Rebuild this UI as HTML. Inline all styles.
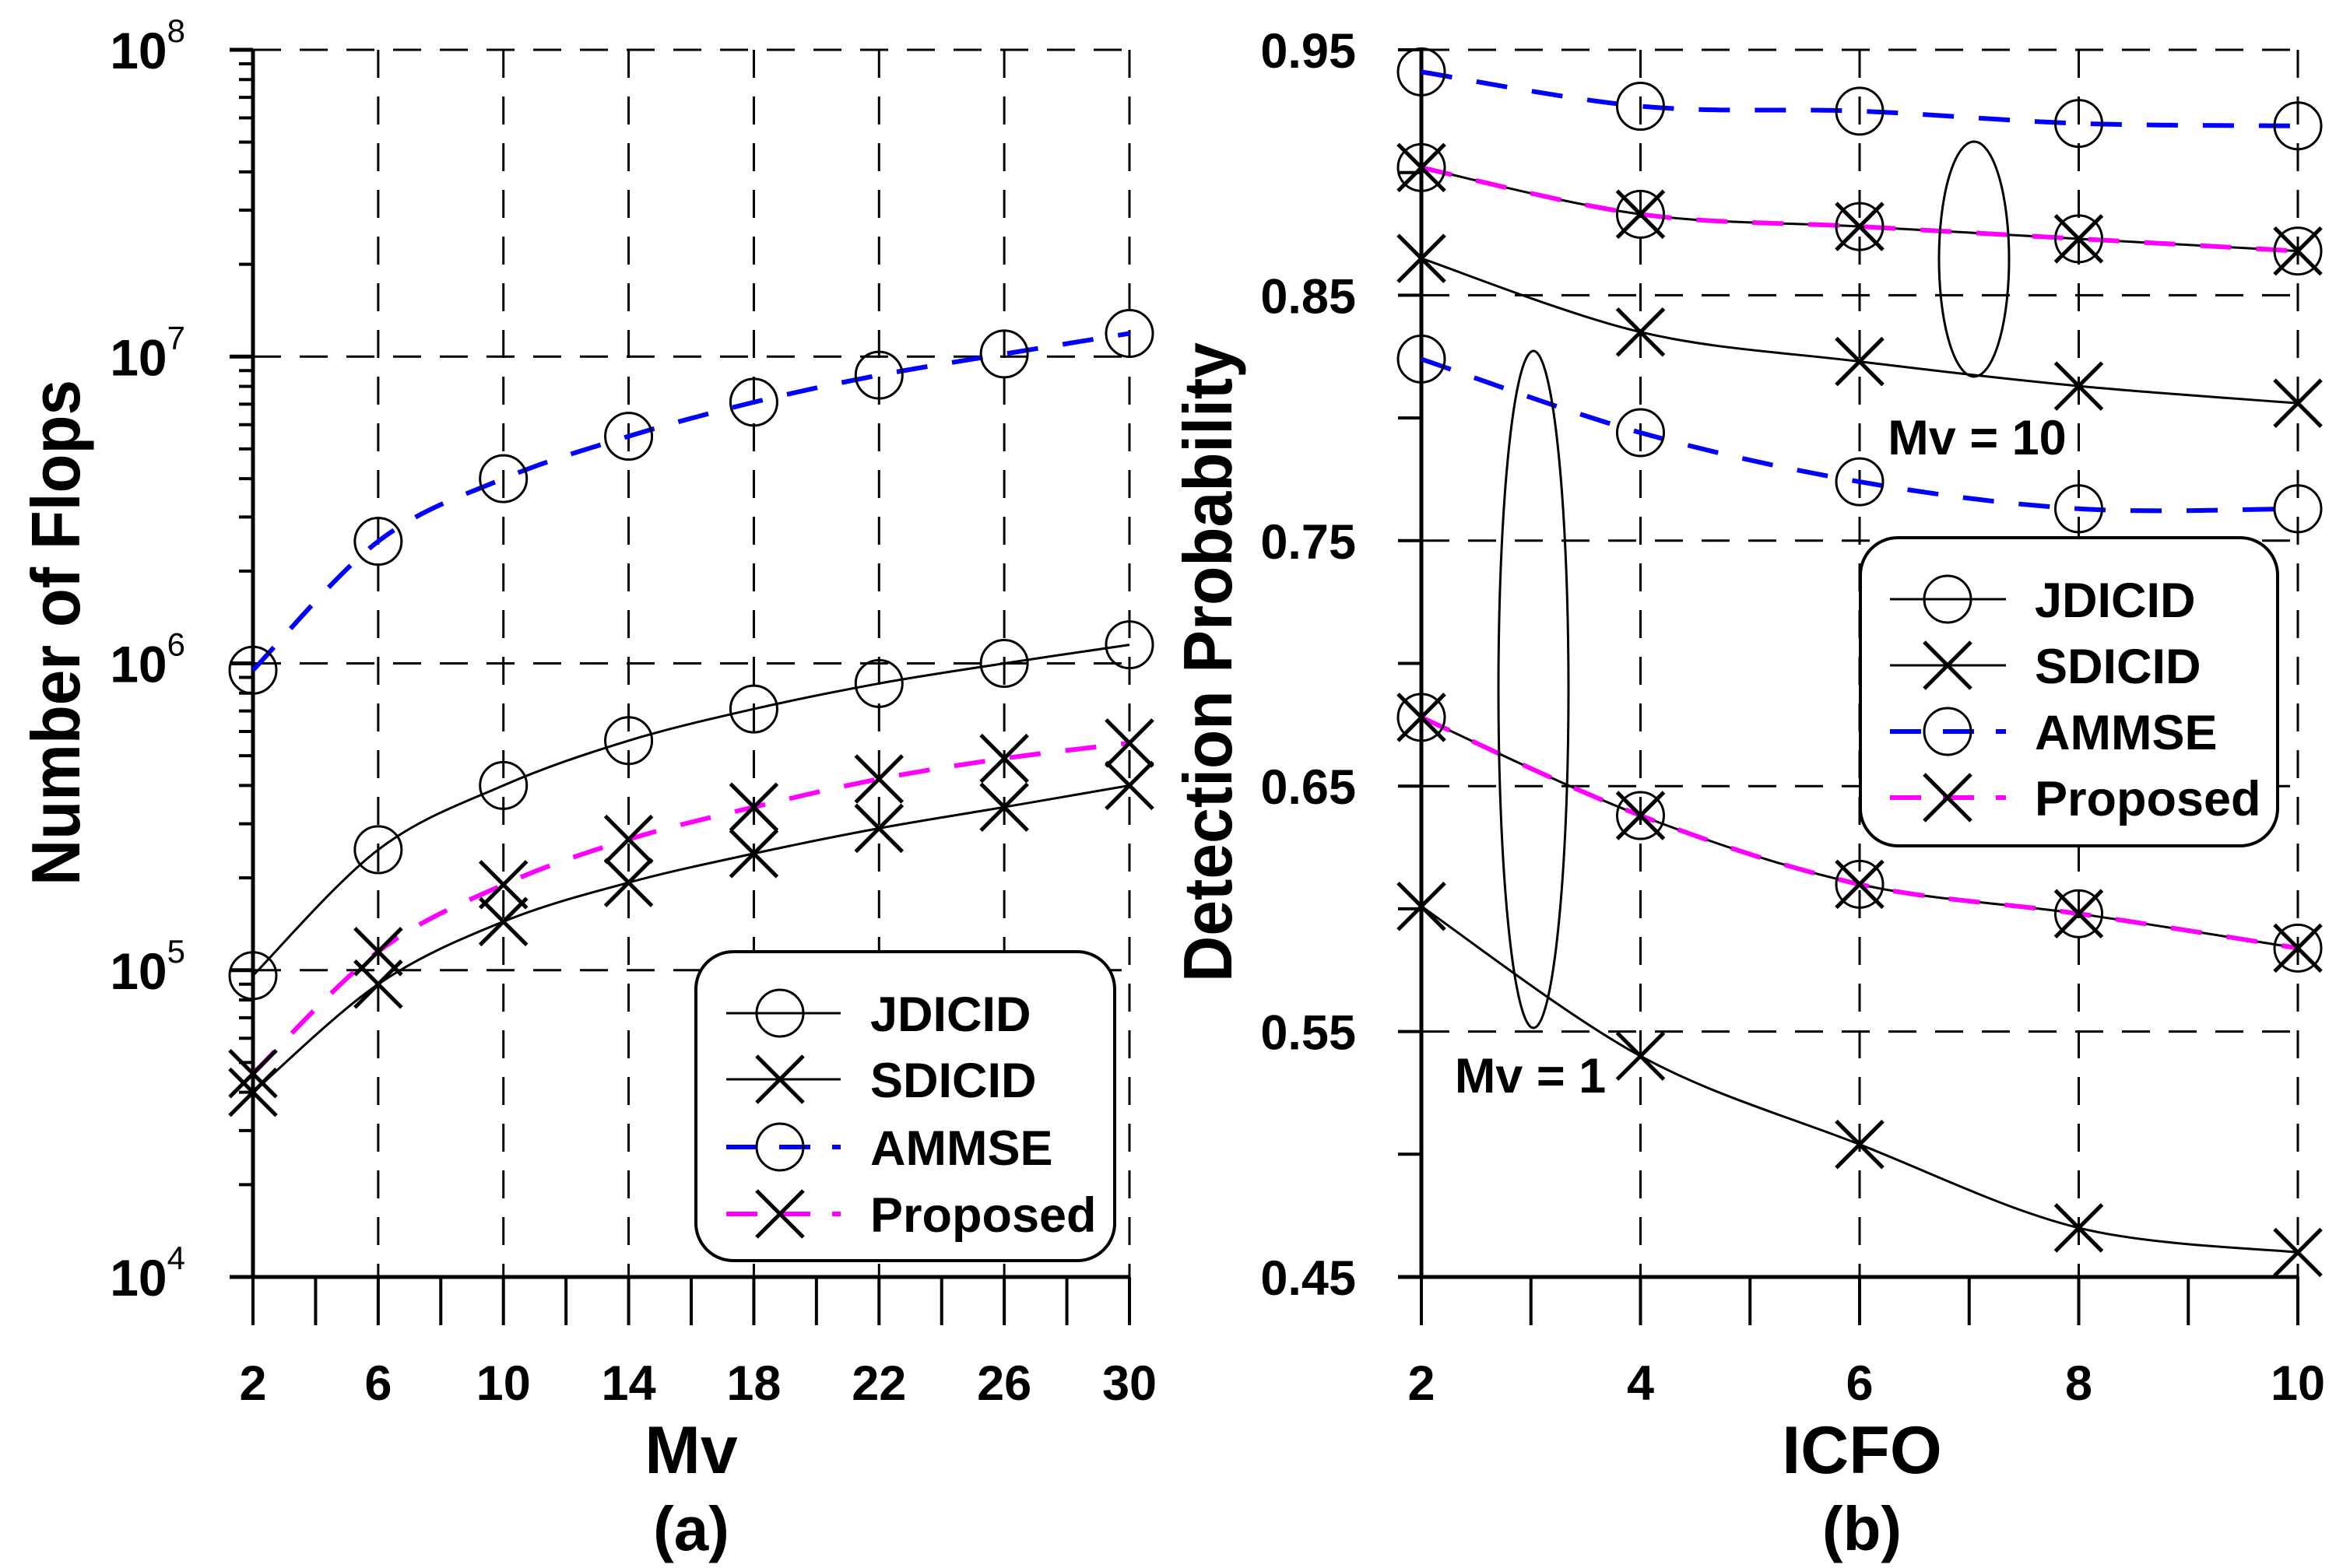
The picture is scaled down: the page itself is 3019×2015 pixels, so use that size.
<!DOCTYPE html>
<html><head><meta charset="utf-8">
<style>
html,body{margin:0;padding:0;background:#fff;}
svg{display:block;}
text{font-family:"Liberation Sans",Arial,sans-serif;font-weight:bold;fill:#000;}
</style></head>
<body>
<svg id="fig" width="3019" height="2015" viewBox="0 0 3019 2015" xmlns="http://www.w3.org/2000/svg">
<rect x="0" y="0" width="3019" height="2015" fill="#fff"/>
<g id="pa"></g>
<g id="pb"></g>
</svg>
<script>
// ---------- Chart (a) data ----------
const mvCats = [2, 6, 10, 14, 18, 22, 26, 30];
const flopsJDICID = [9.6e4, 2.47e5, 4.0e5, 5.6e5, 7.1e5, 8.6e5, 1.0e6, 1.15e6];
const flopsSDICID = [4.0e4, 9.0e4, 1.44e5, 1.93e5, 2.4e5, 2.9e5, 3.4e5, 4.0e5];
const flopsAMMSE = [9.5e5, 2.5e6, 4.0e6, 5.5e6, 7.1e6, 8.7e6, 1.02e7, 1.19e7];
const flopsProposed = [4.6e4, 1.15e5, 1.9e5, 2.67e5, 3.4e5, 4.2e5, 4.9e5, 5.5e5];
const aXTicks = [2, 6, 10, 14, 18, 22, 26, 30];
const aYExps = [4, 5, 6, 7, 8];

// ---------- Chart (b) data ----------
const icfoCats = [2, 4, 6, 8, 10];
const pd10AMMSE = [0.941, 0.927, 0.925, 0.920, 0.919];
const pd10JDICID = [0.902, 0.883, 0.878, 0.873, 0.868];
const pd10Proposed = [0.902, 0.883, 0.878, 0.873, 0.868];
const pd10SDICID = [0.865, 0.835, 0.823, 0.813, 0.806];
const pd1AMMSE = [0.824, 0.794, 0.774, 0.763, 0.763];
const pd1JDICID = [0.678, 0.638, 0.610, 0.598, 0.584];
const pd1Proposed = [0.678, 0.638, 0.610, 0.598, 0.584];
const pd1SDICID = [0.601, 0.540, 0.504, 0.470, 0.460];
const bYTicks = ["0.45", "0.55", "0.65", "0.75", "0.85", "0.95"];
const bXTicks = ["2", "4", "6", "8", "10"];

const NS = "http://www.w3.org/2000/svg";
function mk(parent, tag, attrs, txt) {
  const e = document.createElementNS(NS, tag);
  for (const k in attrs) e.setAttribute(k, attrs[k]);
  if (txt !== undefined) e.textContent = txt;
  parent.appendChild(e);
  return e;
}
const GRID = {stroke: "#000", "stroke-width": 3, "stroke-dasharray": "36 24", fill: "none"};

function circleMarker(g, x, y) {
  return mk(g, "circle", {cx: x, cy: y, r: 30, fill: "none", stroke: "#000", "stroke-width": 3});
}
function crossMarker(g, x, y) {
  return mk(g, "path", {d: `M${x-30},${y-30}L${x+30},${y+30}M${x+30},${y-30}L${x-30},${y+30}`, stroke: "#000", "stroke-width": 5, fill: "none"});
}
function smoothLine(g, pts, style) {
  let d = "M" + pts[0][0] + "," + pts[0][1];
  for (let i = 0; i < pts.length - 1; i++) {
    const p0 = pts[Math.max(0, i-1)], p1 = pts[i], p2 = pts[i+1], p3 = pts[Math.min(pts.length-1, i+2)];
    const c1x = p1[0] + (p2[0]-p0[0])/6, c1y = p1[1] + (p2[1]-p0[1])/6;
    const c2x = p2[0] - (p3[0]-p1[0])/6, c2y = p2[1] - (p3[1]-p1[1])/6;
    d += `C${c1x.toFixed(1)},${c1y.toFixed(1)} ${c2x.toFixed(1)},${c2y.toFixed(1)} ${p2[0].toFixed(1)},${p2[1].toFixed(1)}`;
  }
  return mk(g, "path", Object.assign({d: d, fill: "none"}, style));
}
const SOLID = {stroke: "#000", "stroke-width": 3};
const BLUE = {stroke: "#0000ff", "stroke-width": 6, "stroke-dasharray": "40 32"};
const MAG = {stroke: "#ff00ff", "stroke-width": 6, "stroke-dasharray": "40 32"};

function drawLegend(lg, lx0, lx1, mx, tx, rows) {
  const names = ["JDICID", "SDICID", "AMMSE", "Proposed"];
  const styles = [SOLID, SOLID, BLUE, MAG];
  const kinds = ["o", "x", "o", "x"];
  names.forEach((n, i) => {
    const y = rows[i];
    const eg = mk(lg, "g", {});
    
    
    const st = Object.assign({}, styles[i]);
    if (i >= 2) st["stroke-dasharray"] = "40 28";
    mk(eg, "line", Object.assign({x1: lx0, x2: lx1, y1: y, y2: y}, st));
    if (kinds[i] === "o") circleMarker(eg, mx, y); else crossMarker(eg, mx, y);
    mk(eg, "text", {x: tx, y: y + 23, "font-size": 63}, n);
  });
}

// ================= Chart (a) =================
(function(){
  const g = document.getElementById("pa");
  const X0 = 325, X1 = 1451, Y0 = 1641, Y1 = 64;
  const xs = v => X0 + (v - 2) / 28 * (X1 - X0);
  const ys = v => Y0 - (Math.log10(v) - 4) / 4 * (Y0 - Y1);

  aYExps.forEach(e => {
    if (e === 4) return;
    const l = mk(g, "line", Object.assign({x1: X0, x2: X1, y1: ys(Math.pow(10, e)), y2: ys(Math.pow(10, e))}, GRID));
    
    
  });
  aXTicks.forEach(v => {
    if (v === 2) return;
    const l = mk(g, "line", Object.assign({x1: xs(v), x2: xs(v), y1: Y1, y2: Y0}, GRID));
    
    
  });
  const ya = mk(g, "line", {x1: X0, x2: X0, y1: Y1, y2: Y0, stroke: "#000", "stroke-width": 5});
  
  
  const xa = mk(g, "line", {x1: X0 - 30, x2: X1, y1: Y0, y2: Y0, stroke: "#000", "stroke-width": 5});
  
  
  aYExps.forEach(e => {
    const y = ys(Math.pow(10, e));
    mk(g, "line", {x1: X0 - 30, x2: X0, y1: y, y2: y, stroke: "#000", "stroke-width": 5});
    const t = mk(g, "text", {x: 238, y: y + 24, "text-anchor": "end", "font-size": 66});
    
    
    t.textContent = "10";
    mk(t, "tspan", {dy: -34, "font-size": 42, "font-weight": "normal"}, String(e));
    if (e < 8) for (let m = 2; m <= 9; m++) {
      const yy = ys(m * Math.pow(10, e));
      mk(g, "line", {x1: X0 - 18, x2: X0, y1: yy, y2: yy, stroke: "#000", "stroke-width": 4});
    }
  });
  for (let v = 2; v <= 30; v += 2) {
    mk(g, "line", {x1: xs(v), x2: xs(v), y1: Y0, y2: Y0 + 62, stroke: "#000", "stroke-width": 4});
  }
  aXTicks.forEach(v => {
    const t = mk(g, "text", {x: xs(v), y: 1799, "text-anchor": "middle", "font-size": 63}, String(v));
    
    
  });
  const xt = mk(g, "text", {x: 888, y: 1893, "text-anchor": "middle", "font-size": 86}, "Mv");
  
  
  const cap = mk(g, "text", {x: 888, y: 1992, "text-anchor": "middle", "font-size": 80}, "(a)");
  
  
  const yt = mk(g, "text", {x: 0, y: 0, "text-anchor": "middle", "font-size": 88, transform: "translate(102,813) rotate(-90)", textLength: 650, lengthAdjust: "spacingAndGlyphs"}, "Number of Flops");
  
  

  const pts = arr => mvCats.map((c, i) => [xs(c), ys(arr[i])]);
  const sg = mk(g, "g", {});
  
  
  let l;
  l = smoothLine(sg, pts(flopsJDICID), SOLID);
  
  
  l = smoothLine(sg, pts(flopsSDICID), SOLID);
  
  
  l = smoothLine(sg, pts(flopsAMMSE), BLUE);
  
  
  l = smoothLine(sg, pts(flopsProposed), MAG);
  
  
  pts(flopsJDICID).forEach(p => { const m = circleMarker(sg, p[0], p[1]);   });
  pts(flopsAMMSE).forEach(p => { const m = circleMarker(sg, p[0], p[1]);   });
  pts(flopsSDICID).forEach(p => { const m = crossMarker(sg, p[0], p[1]);   });
  pts(flopsProposed).forEach(p => { const m = crossMarker(sg, p[0], p[1]);   });

  const lg = mk(g, "g", {});
  
  
  mk(lg, "rect", {x: 894, y: 1223, width: 538, height: 397, rx: 48, fill: "#fff", stroke: "#000", "stroke-width": 4});
  drawLegend(lg, 933, 1080, 1002, 1118, [1302, 1387, 1474, 1560]);
})();

// ================= Chart (b) =================
(function(){
  const g = document.getElementById("pb");
  const X0 = 1826, X1 = 2952, Y0 = 1641, Y1 = 64;
  const xs = v => X0 + (v - 2) / 8 * (X1 - X0);
  const ys = v => Y0 - (v - 0.45) / 0.5 * (Y0 - Y1);

  bYTicks.forEach(s => {
    const v = parseFloat(s);
    if (v === 0.45) return;
    const l = mk(g, "line", Object.assign({x1: X0, x2: X1, y1: ys(v), y2: ys(v)}, GRID));
    
    
  });
  bXTicks.forEach(s => {
    const v = parseFloat(s);
    if (v === 2) return;
    const l = mk(g, "line", Object.assign({x1: xs(v), x2: xs(v), y1: Y1, y2: Y0}, GRID));
    
    
  });
  const ya = mk(g, "line", {x1: X0, x2: X0, y1: Y1, y2: Y0, stroke: "#000", "stroke-width": 5});
  
  
  const xa = mk(g, "line", {x1: X0 - 30, x2: X1, y1: Y0, y2: Y0, stroke: "#000", "stroke-width": 5});
  
  
  for (let k = 0; k <= 10; k++) {
    const v = 0.45 + k * 0.05;
    mk(g, "line", {x1: X0 - 30, x2: X0, y1: ys(v), y2: ys(v), stroke: "#000", "stroke-width": 4});
  }
  bYTicks.forEach(s => {
    const t = mk(g, "text", {x: 1742, y: ys(parseFloat(s)) + 23, "text-anchor": "end", "font-size": 63}, s);
    
    
  });
  for (let v = 2; v <= 10; v++) {
    mk(g, "line", {x1: xs(v), x2: xs(v), y1: Y0, y2: Y0 + 62, stroke: "#000", "stroke-width": 4});
  }
  bXTicks.forEach(s => {
    const t = mk(g, "text", {x: xs(parseFloat(s)), y: 1799, "text-anchor": "middle", "font-size": 63}, s);
    
    
  });
  const xt = mk(g, "text", {x: 2392, y: 1893, "text-anchor": "middle", "font-size": 86}, "ICFO");
  
  
  const cap = mk(g, "text", {x: 2392, y: 1992, "text-anchor": "middle", "font-size": 80}, "(b)");
  
  
  const yt = mk(g, "text", {x: 0, y: 0, "text-anchor": "middle", "font-size": 88, transform: "translate(1582,851) rotate(-90)", textLength: 822, lengthAdjust: "spacingAndGlyphs"}, "Detection Probability");
  
  

  const pts = arr => icfoCats.map((c, i) => [xs(c), ys(arr[i])]);
  const sg = mk(g, "g", {});
  
  
  const lines = [
    [pd10JDICID, SOLID, "jdicid-mv10-line"], [pd10SDICID, SOLID, "sdicid-mv10-line"],
    [pd1JDICID, SOLID, "jdicid-mv1-line"], [pd1SDICID, SOLID, "sdicid-mv1-line"],
    [pd10AMMSE, BLUE, "ammse-mv10-line"], [pd1AMMSE, BLUE, "ammse-mv1-line"],
    [pd10Proposed, MAG, "proposed-mv10-line"], [pd1Proposed, MAG, "proposed-mv1-line"]
  ];
  lines.forEach(L => {
    const l = smoothLine(sg, pts(L[0]), L[1]);
    
    
  });
  [pd10JDICID, pd1JDICID].forEach(a => pts(a).forEach(p => { const m = circleMarker(sg, p[0], p[1]);   }));
  [pd10AMMSE, pd1AMMSE].forEach(a => pts(a).forEach(p => { const m = circleMarker(sg, p[0], p[1]);   }));
  [pd10SDICID, pd1SDICID].forEach(a => pts(a).forEach(p => { const m = crossMarker(sg, p[0], p[1]);   }));
  [pd10Proposed, pd1Proposed].forEach(a => pts(a).forEach(p => { const m = crossMarker(sg, p[0], p[1]);   }));

  const e1 = mk(g, "ellipse", {cx: 2536, cy: 333, rx: 45, ry: 151, fill: "none", stroke: "#000", "stroke-width": 3});
  
  
  const e2 = mk(g, "ellipse", {cx: 1970, cy: 886, rx: 45, ry: 435, fill: "none", stroke: "#000", "stroke-width": 3});
  
  
  const a1 = mk(g, "text", {x: 2540, y: 584, "text-anchor": "middle", "font-size": 63}, "Mv = 10");
  
  
  const a2 = mk(g, "text", {x: 1966, y: 1404, "text-anchor": "middle", "font-size": 63}, "Mv = 1");
  
  

  const lg = mk(g, "g", {});
  
  
  mk(lg, "rect", {x: 2390, y: 691, width: 536, height: 396, rx: 48, fill: "#fff", stroke: "#000", "stroke-width": 4});
  drawLegend(lg, 2428, 2577, 2502, 2614, [770, 855, 940, 1025]);
})();
</script>
</body></html>
